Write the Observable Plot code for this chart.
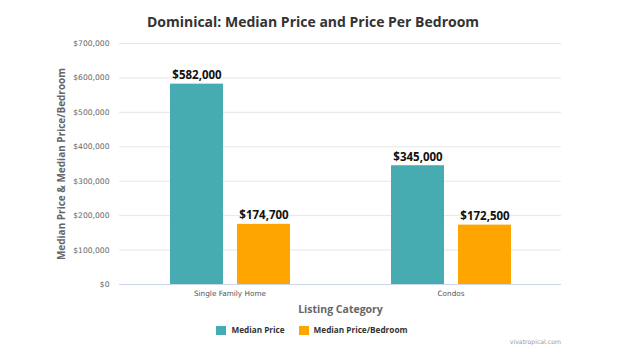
<!DOCTYPE html>
<html><head><meta charset="utf-8">
<script src="https://cdn.jsdelivr.net/npm/d3@7"></script>
<script src="https://cdn.jsdelivr.net/npm/@observablehq/plot@0.6"></script>
<style>
body{margin:0;background:#fff;font-family:"DejaVu Sans",sans-serif;width:620px;height:358px;overflow:hidden;position:relative}
#title{position:absolute;top:12px;left:0;width:620px;text-align:center;font-family:"Open Sans",sans-serif;font-weight:bold;font-size:14px;line-height:20px;color:#333;padding-left:6px;box-sizing:border-box}
#chart{position:absolute;top:30px;left:0}
#legend{position:absolute;top:324px;left:0;width:620px;display:flex;justify-content:center;gap:14px;font-family:"Open Sans",sans-serif;font-size:8.2px;font-weight:bold;color:#333;padding-left:4px;box-sizing:border-box;line-height:12px}
#legend span.item{display:flex;align-items:center;gap:5px}
#legend span.sw{display:inline-block;width:10px;height:9px}
#credit{position:absolute;top:338px;right:59px;font-size:6.2px;color:#999}
</style></head><body>
<div id="title">Dominical: Median Price and Price Per Bedroom</div>
<div id="chart"></div>
<div id="legend"></div>
<div id="credit">vivatropical.com</div>
<script>
const categories = ["Single Family Home", "Condos"];
const seriesNames = ["Median Price", "Median Price/Bedroom"];
const medianPrice = [582000, 345000];
const pricePerBedroom = [174700, 172500];
const yTicks = [0, 100000, 200000, 300000, 400000, 500000, 600000, 700000];
const colors = ["#47acb1", "#ffa500"];

const data = categories.flatMap((c, i) => [
  {category: c, series: seriesNames[0], value: medianPrice[i]},
  {category: c, series: seriesNames[1], value: pricePerBedroom[i]}
]);
const fmt = d => "$" + d3.format(",")(d);

const chart = Plot.plot({
  width: 620, height: 290,
  marginTop: 13, marginBottom: 36, marginLeft: 118, marginRight: 59,
  style: {fontFamily: "DejaVu Sans", background: "#fff", overflow: "visible"},
  fx: {domain: categories, padding: 0},
  x: {domain: seriesNames, paddingInner: 0.21, paddingOuter: 0.754, axis: null},
  y: {domain: [0, 700000]},
  color: {domain: seriesNames, range: colors},
  marks: [
    Plot.gridY(yTicks, {stroke: "#e6e6e6", strokeOpacity: 1}),
    Plot.axisY(yTicks, {tickSize: 0, tickPadding: 10, tickFormat: fmt, fontSize: 7.6, fill: "#666", label: null}),
    Plot.axisY({ticks: [], tickSize: 0, label: "Median Price & Median Price/Bedroom", labelAnchor: "center", labelArrow: "none", labelOffset: 62, fontSize: 10, fontWeight: "bold", fill: "#666", fontFamily: "Open Sans"}),
    Plot.axisFx({anchor: "bottom", tickSize: 0, tickPadding: 6, fontSize: 7.3, fill: "#555", label: null}),
    Plot.axisFx({anchor: "bottom", ticks: [], tickSize: 0, label: "Listing Category", labelAnchor: "center", labelArrow: "none", labelOffset: 28, fontSize: 10.5, fontWeight: "bold", fill: "#666", fontFamily: "Open Sans"}),
    Plot.barY(data, {fx: "category", x: "series", y: "value", fill: "series"}),
    Plot.ruleY([0], {stroke: "#ccd6eb"}),
    Plot.text(data, {fx: "category", x: "series", y: "value", text: d => fmt(d.value), lineAnchor: "bottom", dy: -5, fontSize: 11.5, fontWeight: "bold", fill: "#111", fontFamily: "Open Sans"})
  ]
});
document.getElementById("chart").appendChild(chart);

const legend = document.getElementById("legend");
seriesNames.forEach((s, i) => {
  const item = document.createElement("span");
  item.className = "item";
  const sw = document.createElement("span");
  sw.className = "sw";
  sw.style.background = colors[i];
  item.appendChild(sw);
  item.appendChild(document.createTextNode(s));
  legend.appendChild(item);
});
</script>
</body></html>
